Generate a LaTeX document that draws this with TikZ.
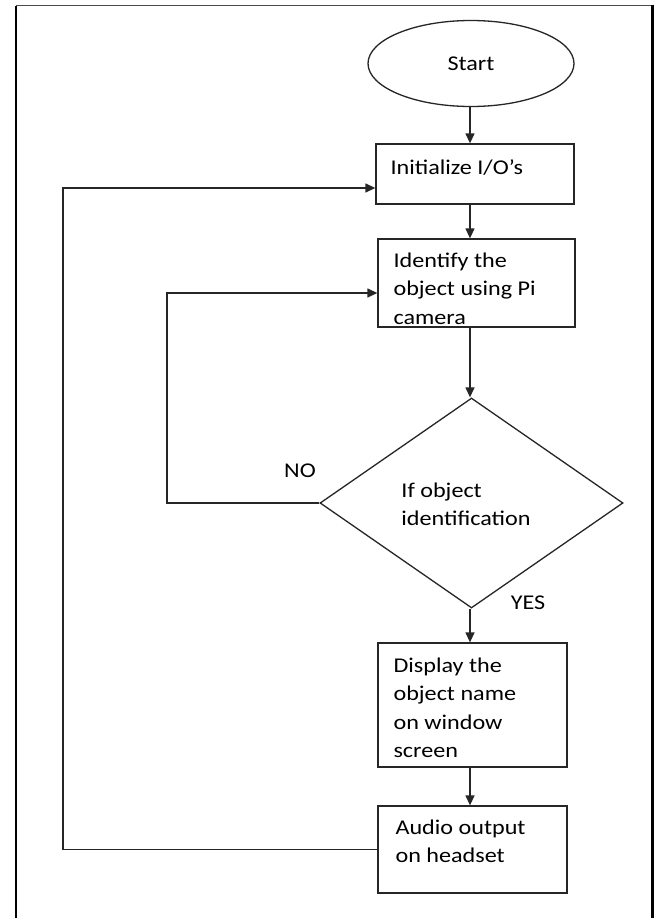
\documentclass[tikz,border=0pt]{standalone}
\usepackage{fontspec}
\newfontfamily\cf[FakeStretch=1.15]{Carlito}
\usetikzlibrary{shapes.geometric,arrows.meta}
\begin{document}
\begin{tikzpicture}[x=1pt,y=-1pt,
  line/.style={draw=black!85, line width=1.3pt},
  arr/.style={line, -{Triangle[length=10pt,width=9pt]}},
  box/.style={line, rectangle, inner sep=0pt},
  txt/.style={inner sep=0pt, font=\cf\fontsize{21}{28.5}\selectfont},
  boxtext/.style={txt, anchor=north west, align=left}]
\useasboundingbox (0,0) rectangle (654,918);
\fill[white] (0,0) rectangle (654,918);
% outer frame
\draw[line width=2pt] (16,918) -- (16,5.5);
\draw[line width=1.3pt, black!70] (16,5.5) -- (651,5.5);
\draw[line width=3.5pt] (652.5,4.5) -- (652.5,918);
% column and loop coordinates
\coordinate (col) at (470,0);
\coordinate (nox) at (167,0);
\coordinate (audx) at (63,0);
% nodes
\node[line, ellipse, minimum width=206pt, minimum height=86pt, txt] (start) at (471,63.5) {Start};
\node[box, minimum width=198pt, minimum height=60pt,
  label={[boxtext, xshift=15pt, yshift=-16pt]north west:Initialize I/O’s}] (init) at (475,174) {};
\node[box, minimum width=197pt, minimum height=88pt,
  label={[boxtext, xshift=16pt, yshift=-14pt]north west:Identify the\\object using Pi\\camera}] (ident) at (476.5,283) {};
\node[line, diamond, minimum width=303pt, minimum height=210pt, inner sep=0pt,
  label={[txt, align=left, xshift=-5.5pt, yshift=-1.5pt]center:If object\\identification}] (dec) at (471.5,503) {};
\node[box, minimum width=189pt, minimum height=124pt,
  label={[boxtext, xshift=16pt, yshift=-15pt]north west:Display the\\object name\\on window\\screen}] (disp) at (472.5,705) {};
\node[box, minimum width=189pt, minimum height=87pt,
  label={[boxtext, xshift=18pt, yshift=-14pt]north west:Audio output\\on headset}] (audio) at (472.5,849.5) {};
\node[txt] (no) at (300,471) {NO};
\node[txt] (yes) at (528,603) {YES};
% connectors
\draw[arr] (start.south -| col) -- (init.north -| col);
\draw[arr] (init.south -| col) -- (ident.north -| col);
\draw[arr] (ident.south -| col) -- (dec.north -| col);
\draw[arr] (dec.south -| col) -- (disp.north -| col);
\draw[arr] (disp.south -| col) -- (audio.north -| col);
\draw[arr] (dec.west) -- (dec.west -| nox) |- ([yshift=-10pt]ident.west);
\draw[arr] (audio.west) -- (audio.west -| audx) |- ([yshift=-14pt]init.west);
\end{tikzpicture}
\end{document}
